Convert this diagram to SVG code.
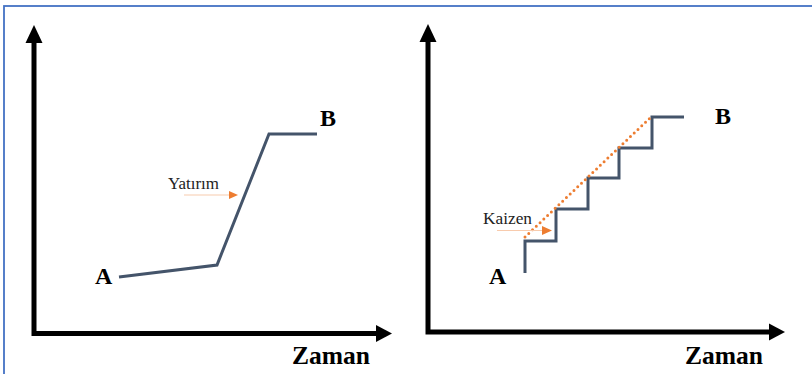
<svg xmlns="http://www.w3.org/2000/svg" width="812" height="374" viewBox="0 0 812 374">
<style>
.axis{stroke:#000;stroke-width:5;fill:none}
.head{fill:#000}
.curve{stroke:#44546a;stroke-width:3;fill:none;stroke-linejoin:miter}
.lbl{font-family:"Liberation Serif",serif;font-weight:bold;fill:#000}
.note{font-family:"Liberation Serif",serif;font-size:16.5px;fill:#222}
.thin{stroke:#f8cbad;stroke-width:1.2;fill:none}
.ohead{fill:#ed7d31}
</style>
<rect x="4" y="6" width="830" height="400" fill="#fff" stroke="#4472c4" stroke-width="1.8"/>
<g id="left-axes">
<path class="axis" d="M34,42 V333.5 H378"/>
<polygon class="head" points="34,25 25.5,43 42.5,43"/>
<polygon class="head" points="392,333.5 376,325 376,342"/>
<text class="lbl" x="292" y="364" font-size="26" textLength="78" lengthAdjust="spacingAndGlyphs">Zaman</text>
</g>
<g id="right-axes">
<path class="axis" d="M428,41 V332 H771"/>
<polygon class="head" points="428,24 419.5,42 436.5,42"/>
<polygon class="head" points="785,332 769,323.5 769,340.5"/>
<text class="lbl" x="685" y="364" font-size="26" textLength="78" lengthAdjust="spacingAndGlyphs">Zaman</text>
</g>
<g id="left-graph">
<path class="curve" d="M119,277 L217,265 L269,134 H317"/>
<text class="lbl" x="95" y="284" font-size="24">A</text>
<text class="lbl" x="320" y="126" font-size="24">B</text>
</g>
<g id="yatirim">
<text class="note" x="168" y="189" textLength="51" lengthAdjust="spacingAndGlyphs">Yatırım</text>
<line class="thin" x1="184" y1="195" x2="230" y2="195"/>
<polygon class="ohead" points="238,195 229,191 229,199"/>
</g>
<g id="right-graph">
<path class="curve" d="M525,273 V241 H556 V209 H588 V178 H619 V148 H652 V117 H684"/>
<text class="lbl" x="489" y="284" font-size="24">A</text>
<text class="lbl" x="715" y="124" font-size="24">B</text>
</g>
<g id="kaizen">
<line x1="525" y1="237" x2="650" y2="118" stroke="#ed7d31" stroke-width="3" stroke-linecap="round" stroke-dasharray="0 5.2"/>
<text class="note" x="483" y="224" textLength="49" lengthAdjust="spacingAndGlyphs">Kaizen</text>
<line class="thin" x1="497" y1="230.5" x2="544" y2="230.5"/>
<polygon class="ohead" points="552,230.5 542,226 542,235"/>
</g>
</svg>
